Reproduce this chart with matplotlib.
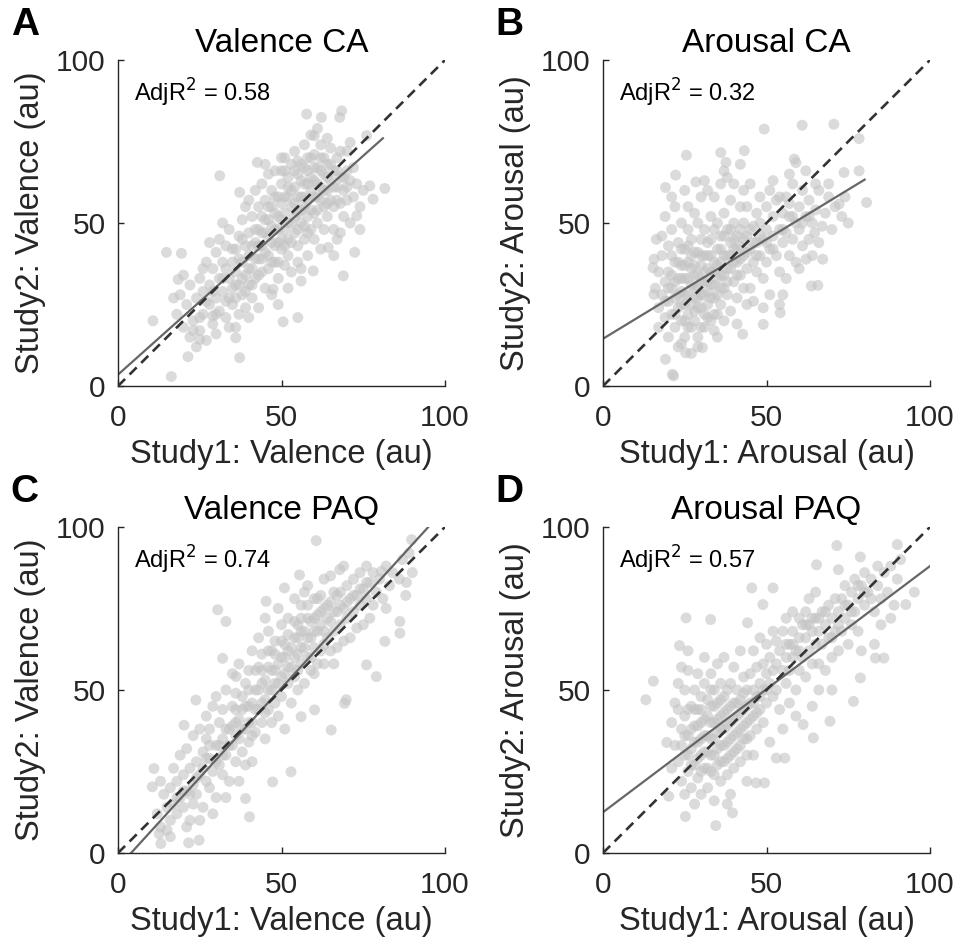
import numpy as np
import matplotlib
matplotlib.use("Agg")
import matplotlib.pyplot as plt

plt.rcParams['font.family'] = ['Liberation Sans', 'DejaVu Sans']

# panel titles, letters, axis names and the adjusted R^2 values
titles = ['Valence CA', 'Arousal CA', 'Valence PAQ', 'Arousal PAQ']
letters = ['A', 'B', 'C', 'D']
measures = ['Valence', 'Arousal', 'Valence', 'Arousal']
adj_r2 = [0.58, 0.32, 0.74, 0.57]

# fitted regression lines: intercept, slope, x end
fit_intercept = [3.5, 14.5, -4.4, 12.5]
fit_slope = [0.895, 0.61, 1.1, 0.755]
fit_xmax = [81, 80, 100, 100]

# scatter points (Study1, Study2)
pts_a = [
    (16.3, 2.9), (10.7, 20), (14.8, 41), (19.4, 40.7), (31.1, 64.5), (21.4, 9), (37.2, 8.7),
    (36, 14.8), (50.5, 19.7), (55, 21), (57.7, 83.4), (62.2, 82.4), (68.4, 84.4), (67.8, 82.4),
    (76, 76.8), (81.6, 60.6), (78, 57.3), (77, 61.4), (73, 52.2), (72.4, 41), (68.9, 33.8),
    (64.3, 42.5), (59.7, 35.3), (56, 32.2), (47.4, 29.7), (42.6, 68.6), (37.2, 59.4), (71, 74.7),
    (60, 76.8), (51, 70), (17, 27), (18.4, 32.7), (25, 14.3), (29, 21.5),
    (18, 22), (19, 28), (20, 18), (21, 25), (22, 31), (22, 15), (20, 34), (23, 20),
    (24, 27), (25, 17), (25, 33), (26, 22), (26, 29), (27, 14), (27, 38), (24, 12), (26, 36),
    (28, 25), (28, 31), (29, 19), (29, 36), (30, 27), (30, 41), (30, 16), (31, 23), (31, 33),
    (28, 44), (31, 45),
    (32, 29), (32, 38), (33, 21), (33, 26), (33, 43), (34, 33), (34, 48), (34, 18), (35, 30),
    (35, 38), (35, 25), (32, 50),
    (36, 35), (36, 42), (36, 27), (37, 46), (37, 31), (37, 22), (38, 38), (38, 51), (38, 28),
    (39, 34), (39, 43), (39, 55), (36, 18), (39, 24),
    (40, 31), (40, 40), (40, 47), (40, 57), (41, 36), (41, 27), (41, 52), (42, 44), (42, 33),
    (42, 60), (43, 39), (43, 48), (43, 24), (40, 21), (43, 55),
    (44, 35), (44, 43), (44, 52), (44, 62), (45, 30), (45, 47), (45, 57), (46, 40), (46, 51),
    (46, 36), (46, 65), (47, 44), (47, 55), (47, 28), (45, 68), (47, 60),
    (48, 38), (48, 48), (48, 58), (48, 66), (49, 33), (49, 52), (49, 44), (50, 42), (50, 56),
    (50, 62), (50, 70), (51, 37), (51, 48), (51, 53), (49, 25), (51, 66),
    (52, 45), (52, 58), (52, 64), (52, 40), (53, 50), (53, 55), (53, 68), (53, 35), (54, 47),
    (54, 61), (54, 72), (55, 43), (55, 53), (55, 65), (55, 38), (52, 30),
    (56, 50), (56, 58), (56, 68), (57, 45), (57, 62), (57, 74), (57, 55), (58, 40), (58, 52),
    (58, 66), (59, 48), (59, 60), (59, 70), (56, 36), (59, 77), (58, 57),
    (60, 53), (60, 63), (60, 45), (60, 71), (61, 58), (61, 67), (61, 50), (62, 42), (62, 61),
    (62, 74), (63, 55), (63, 65), (63, 48), (61, 79), (63, 70),
    (64, 52), (64, 60), (64, 68), (65, 57), (65, 63), (65, 73), (66, 48), (66, 55), (66, 66),
    (67, 61), (67, 70), (67, 45), (64, 76), (66, 40),
    (68, 56), (68, 64), (68, 72), (69, 52), (69, 60), (70, 66), (70, 57), (71, 63), (71, 50),
    (68, 47), (70, 72),
    (72, 58), (73, 62), (74, 55), (72, 67), (75, 60), (74, 48),
    (23, 17), (25, 21), (27, 26), (29, 29), (30, 22), (32, 33), (33, 36), (34, 27), (35, 42),
    (36, 31), (37, 39), (38, 33), (38, 45), (39, 29), (40, 36), (41, 43), (41, 31), (42, 48),
    (42, 39), (43, 34), (43, 43), (44, 47), (44, 39), (45, 51), (45, 41), (46, 46), (46, 55),
    (47, 49), (47, 38), (48, 53), (48, 43), (49, 48), (49, 58), (49, 38), (50, 51), (50, 45),
    (50, 66), (51, 58), (51, 43), (52, 50), (52, 61), (53, 44), (53, 60), (54, 52), (54, 56),
    (54, 66), (55, 48), (55, 58), (55, 69), (56, 54), (56, 63), (57, 49), (57, 58), (57, 67),
    (58, 62), (58, 70), (59, 54), (59, 64), (60, 58), (60, 67), (61, 62), (61, 54), (62, 57),
    (62, 66), (63, 60), (64, 64), (64, 56), (65, 68), (66, 61), (67, 57), (67, 66), (69, 64),
    (70, 61), (62, 70), (58, 47),
]

pts_b = [
    (49.3, 78.8), (60.9, 80), (70.6, 80.3), (78.3, 75.9), (78.3, 66), (73.7, 65.5), (80.6, 56.3),
    (72.2, 55.8), (67.2, 38.9), (63.7, 30.7), (65.7, 30.9), (54.2, 22.5), (49, 18.9), (42.7, 15.9),
    (25.5, 70.8), (36, 71.6), (43.2, 72.2), (37.6, 68.6), (22.2, 64.7), (19.1, 60.9), (28.4, 62.6),
    (16.3, 45), (15.6, 38.9), (15.3, 36.3), (15.6, 28.1), (19.1, 8.2), (21.2, 3.6), (21.6, 3.1),
    (25.3, 10.2), (30.4, 11.8), (58.5, 69.6), (59, 68.5), (64.7, 47), (62.1, 38.9),
    (16, 30), (17, 35), (17, 24), (18, 40), (18, 28), (19, 32), (19, 21), (18, 46), (19, 52), (17, 18),
    (20, 26), (20, 35), (20, 43), (20, 15), (21, 30), (21, 22), (21, 48), (22, 38), (22, 27),
    (22, 18), (23, 33), (23, 44), (23, 12), (22, 55), (21, 58), (23, 24),
    (24, 29), (24, 37), (24, 20), (24, 50), (25, 25), (25, 33), (25, 42), (25, 15), (26, 28),
    (26, 38), (26, 22), (26, 55), (27, 31), (27, 45), (27, 18), (27, 10), (25, 60), (26, 48),
    (24, 13), (27, 36),
    (28, 27), (28, 34), (28, 41), (28, 20), (29, 30), (29, 50), (29, 24), (29, 15), (30, 37),
    (30, 28), (30, 45), (30, 58), (31, 32), (31, 22), (31, 40), (31, 63), (28, 53), (30, 18),
    (29, 12), (31, 48),
    (32, 29), (32, 36), (32, 44), (32, 25), (33, 52), (33, 31), (33, 20), (33, 40), (34, 35),
    (34, 27), (34, 48), (34, 58), (35, 33), (35, 42), (35, 22), (35, 15), (32, 60), (34, 17),
    (36, 30), (36, 38), (36, 46), (36, 25), (37, 53), (37, 34), (37, 20), (38, 40), (38, 28),
    (38, 64), (38, 48), (39, 36), (39, 44), (39, 23), (37, 66), (39, 57), (36, 62),
    (40, 32), (40, 42), (40, 50), (40, 62), (41, 38), (41, 27), (41, 46), (42, 55), (42, 34),
    (42, 43), (42, 68), (43, 40), (43, 30), (43, 50), (41, 19), (43, 60),
    (44, 36), (44, 46), (44, 55), (45, 42), (45, 30), (45, 62), (46, 38), (46, 49), (46, 26),
    (47, 44), (47, 53), (47, 35), (44, 25),
    (48, 40), (48, 50), (48, 58), (49, 45), (49, 33), (50, 48), (50, 38), (50, 55), (51, 42),
    (51, 28), (51, 60), (49, 24),
    (52, 46), (52, 52), (53, 40), (53, 57), (54, 48), (54, 35), (55, 44), (55, 53), (55, 28),
    (52, 63), (54, 25),
    (56, 47), (56, 58), (57, 40), (57, 52), (58, 45), (58, 62), (59, 50), (59, 38), (57, 65), (56, 33),
    (60, 48), (60, 55), (61, 43), (61, 60), (62, 52), (62, 66), (63, 45), (63, 57), (60, 36),
    (64, 50), (65, 54), (66, 44), (66, 60), (67, 49), (65, 62), (64, 40),
    (68, 53), (69, 58), (70, 48), (71, 55), (69, 62),
    (73, 52), (74, 58), (75, 50),
    (19, 26), (20, 30), (21, 34), (21, 40), (22, 22), (22, 32), (23, 28), (23, 38), (24, 25),
    (24, 33), (24, 42), (25, 20), (25, 28), (25, 37), (26, 33), (26, 43), (26, 18), (27, 25),
    (27, 40), (28, 30), (28, 23), (28, 37), (29, 27), (29, 34), (29, 41), (30, 24), (30, 32),
    (30, 40), (31, 28), (31, 35), (31, 18), (32, 32), (32, 40), (32, 21), (33, 27), (33, 35),
    (33, 45), (34, 31), (34, 38), (34, 22), (35, 28), (35, 37), (35, 50), (36, 34), (36, 42),
    (37, 30), (37, 40), (37, 46), (38, 36), (38, 32), (39, 40), (39, 48), (40, 38), (40, 45),
    (41, 42), (41, 34), (42, 39), (42, 48), (43, 45), (44, 41), (45, 48), (46, 44), (47, 40),
    (48, 46), (50, 44), (52, 42), (55, 48), (58, 52), (61, 50), (63, 52), (57, 56), (54, 58),
]

pts_c = [
    (60.6, 95.8), (89.8, 96.1), (88.2, 83), (86.2, 71), (86.2, 67.4), (81.6, 64.9), (79, 54.1),
    (76, 57.7), (69.3, 45.9), (69.8, 47), (65.2, 37.7), (60.1, 43.9), (56, 41.8), (52.9, 24.9),
    (47.3, 21.8), (30.5, 74.6), (33, 71), (32, 59.7), (50.9, 81.3), (45.3, 77.2), (23.8, 46.9),
    (20.2, 39.2), (10.5, 20.3), (11, 25.9), (12.6, 5.9), (13.1, 2.9), (21.6, 3.1), (24.8, 3.9),
    (40.2, 11.1), (39, 16.7), (36.1, 54.1), (67.8, 86.9), (80.6, 86.4), (55.5, 85.3),
    (12, 12), (13, 8), (14, 18), (15, 14), (13, 22), (15, 7),
    (16, 10), (16, 20), (17, 15), (17, 26), (18, 12), (18, 22), (19, 17), (19, 30), (16, 5),
    (20, 14), (20, 24), (21, 19), (21, 32), (22, 10), (22, 26), (23, 21), (23, 36), (21, 8), (23, 15),
    (24, 18), (24, 28), (25, 24), (25, 38), (26, 14), (26, 31), (27, 22), (27, 35), (25, 10), (27, 42),
    (28, 20), (28, 29), (28, 38), (29, 25), (29, 45), (30, 17), (30, 33), (31, 27), (31, 40),
    (30, 48), (29, 12),
    (32, 24), (32, 35), (32, 44), (33, 30), (33, 50), (34, 22), (34, 38), (35, 33), (35, 45),
    (33, 17), (35, 55),
    (36, 28), (36, 40), (36, 49), (37, 35), (37, 58), (38, 31), (38, 44), (39, 38), (39, 52),
    (37, 22), (39, 27),
    (40, 34), (40, 45), (40, 56), (41, 40), (41, 62), (42, 37), (42, 50), (43, 44), (43, 57),
    (41, 28), (43, 66),
    (44, 40), (44, 52), (44, 61), (45, 47), (45, 35), (46, 44), (46, 57), (46, 68), (47, 50),
    (47, 40), (45, 72), (47, 62),
    (48, 46), (48, 56), (48, 65), (49, 52), (49, 42), (50, 60), (50, 48), (50, 70), (51, 55),
    (51, 38), (51, 64), (49, 75),
    (52, 52), (52, 62), (52, 72), (53, 57), (53, 46), (54, 66), (54, 54), (54, 78), (55, 61),
    (55, 50), (55, 70),
    (56, 58), (56, 68), (56, 76), (57, 63), (57, 52), (58, 72), (58, 60), (58, 82), (59, 66),
    (59, 56), (57, 80),
    (60, 63), (60, 72), (60, 55), (61, 68), (61, 78), (62, 62), (62, 74), (63, 68), (63, 84),
    (61, 58), (63, 58),
    (64, 66), (64, 76), (65, 71), (65, 62), (66, 80), (66, 68), (67, 74), (67, 63), (65, 85), (66, 58),
    (68, 70), (68, 80), (69, 75), (69, 65), (70, 82), (70, 72), (71, 78), (71, 66), (69, 88),
    (72, 74), (72, 84), (73, 79), (73, 69), (74, 86), (74, 76), (75, 81), (75, 70),
    (76, 78), (76, 88), (77, 83), (78, 76), (78, 86), (79, 80), (77, 72),
    (80, 84), (81, 78), (82, 88), (83, 82), (84, 86), (82, 75),
    (86, 84), (87, 90), (88, 79), (89, 92), (90, 86),
    (18, 17), (20, 19), (22, 18), (24, 23), (26, 26), (27, 29), (28, 33), (30, 28), (31, 33),
    (32, 30), (33, 38), (34, 33), (35, 39), (36, 36), (36, 44), (37, 41), (38, 38), (38, 48),
    (39, 45), (40, 40), (40, 50), (41, 46), (42, 44), (42, 56), (43, 50), (44, 46), (44, 56),
    (45, 53), (46, 50), (46, 62), (47, 56), (48, 52), (48, 61), (49, 58), (50, 54), (50, 65),
    (51, 60), (52, 57), (52, 67), (53, 63), (54, 60), (54, 71), (55, 66), (56, 63), (56, 72),
    (57, 68), (58, 66), (58, 76), (59, 71), (60, 68), (60, 78), (61, 73), (62, 70), (62, 79),
    (63, 75), (64, 72), (65, 77), (66, 74), (67, 79), (68, 76), (70, 77), (72, 79), (74, 81),
    (76, 83), (63, 64), (59, 60), (55, 56), (45, 43), (41, 36),
]

pts_d = [
    (13.1, 47), (15.4, 52.7), (25.4, 72.1), (32.9, 71.6), (23.4, 63.6), (44.2, 70.6), (45.5, 81.3),
    (52, 81.3), (48.9, 76.2), (71.5, 94.3), (90, 94.6), (78.7, 90.8), (65.3, 88.4), (72, 86.9),
    (95.2, 80), (92.6, 76.2), (85.9, 59.8), (83.3, 59.8), (78.7, 53.7), (76.6, 46.5), (69.4, 40.4),
    (64.3, 35.3), (61.2, 39.4), (55.6, 29.1), (53, 29.1), (49.4, 21.5), (46.8, 21.5), (39.6, 12.3),
    (34.5, 8.4), (25.2, 11.2), (20.1, 17.4), (19.5, 33.9),
    (21, 40), (22, 33), (22, 46), (23, 28), (23, 52), (24, 38), (24, 22), (24, 57), (21, 26), (23, 44),
    (25, 30), (25, 42), (25, 50), (25, 18), (26, 36), (26, 25), (26, 56), (27, 45), (27, 32),
    (27, 20), (28, 39), (28, 50), (28, 27), (26, 62), (28, 15),
    (29, 34), (29, 44), (29, 23), (29, 55), (30, 30), (30, 40), (30, 48), (30, 18), (31, 36),
    (31, 26), (31, 52), (32, 42), (32, 31), (32, 20), (31, 60), (32, 47),
    (33, 35), (33, 45), (33, 25), (33, 55), (34, 30), (34, 40), (34, 50), (34, 16), (35, 37),
    (35, 27), (35, 46), (35, 58), (36, 33), (36, 42), (36, 22), (36, 52),
    (37, 38), (37, 28), (37, 48), (37, 60), (38, 34), (38, 44), (38, 24), (39, 40), (39, 30),
    (39, 52), (39, 18), (40, 36), (40, 46), (40, 26), (40, 57), (38, 15),
    (41, 42), (41, 32), (41, 50), (42, 38), (42, 47), (42, 28), (42, 62), (43, 44), (43, 35),
    (43, 54), (44, 40), (44, 50), (44, 30), (44, 22),
    (45, 46), (45, 55), (45, 36), (46, 50), (46, 42), (46, 62), (47, 48), (47, 38), (47, 57),
    (48, 52), (48, 44), (48, 66), (46, 30),
    (49, 50), (49, 58), (49, 40), (50, 55), (50, 46), (50, 64), (51, 52), (51, 60), (51, 34),
    (52, 56), (52, 48), (52, 68),
    (53, 58), (53, 50), (53, 65), (54, 62), (54, 44), (55, 56), (55, 68), (55, 38), (56, 60),
    (56, 52), (56, 72),
    (57, 64), (57, 56), (57, 46), (58, 68), (58, 60), (58, 74), (59, 62), (59, 50), (60, 66),
    (60, 72), (60, 56), (59, 42),
    (61, 70), (61, 60), (62, 74), (62, 66), (62, 54), (63, 70), (63, 62), (63, 78), (64, 68),
    (64, 58), (64, 45),
    (65, 72), (65, 64), (65, 80), (66, 68), (66, 58), (67, 74), (67, 64), (68, 70), (68, 56), (66, 50),
    (69, 76), (69, 66), (70, 72), (70, 60), (71, 78), (71, 68), (72, 74), (72, 62), (70, 50),
    (73, 78), (73, 68), (74, 82), (74, 72), (75, 76), (75, 64), (76, 80), (76, 70),
    (77, 84), (77, 74), (78, 78), (78, 68), (79, 82), (80, 76), (80, 86), (79, 62),
    (81, 80), (82, 84), (83, 74), (84, 88), (85, 78), (83, 64), (85, 70),
    (86, 86), (87, 80), (88, 88), (89, 76), (90, 84), (91, 90), (88, 72),
    (24, 33), (25, 36), (26, 30), (26, 44), (27, 38), (27, 27), (28, 34), (28, 44), (29, 29),
    (29, 39), (30, 35), (30, 25), (30, 44), (31, 31), (31, 41), (32, 36), (32, 26), (33, 40),
    (33, 30), (33, 50), (34, 35), (34, 24), (34, 45), (35, 32), (35, 41), (36, 28), (36, 38),
    (36, 47), (37, 33), (37, 43), (38, 29), (38, 39), (38, 50), (39, 35), (39, 45), (40, 31),
    (40, 41), (41, 37), (41, 46), (42, 33), (42, 43), (43, 39), (43, 49), (44, 35), (44, 45),
    (45, 41), (46, 46), (47, 43), (48, 48), (50, 50), (56, 64), (58, 64), (60, 62), (62, 70),
    (64, 72), (66, 72), (68, 74), (70, 66), (72, 70), (74, 76), (76, 74), (78, 82), (80, 80),
    (82, 78), (84, 82),
]

all_pts = [pts_a, pts_b, pts_c, pts_d]

lefts = [0.1233, 0.6301, 0.1233, 0.6301]
bottoms = [0.5902, 0.5902, 0.0945, 0.0945]
w, h = 0.3417, 0.3461

fig = plt.figure(figsize=(9.57, 9.42), dpi=100)

for i in range(4):
    ax = fig.add_axes([lefts[i], bottoms[i], w, h])
    xy = np.array(all_pts[i])
    ax.scatter(xy[:, 0], xy[:, 1], s=62, color='#c4c4c4', alpha=0.6,
               edgecolors='none', zorder=1)

    # identity line
    ax.plot([0, 100], [0, 100], color='#333333', lw=1.9,
            linestyle=(0, (3.8, 2.4)), zorder=3)
    # regression fit
    xf = np.array([0, fit_xmax[i]])
    ax.plot(xf, fit_intercept[i] + fit_slope[i] * xf, color='#666666', lw=1.6, zorder=2)

    ax.set_xlim(0, 100)
    ax.set_ylim(0, 100)
    ax.set_xticks([0, 50, 100])
    ax.set_yticks([0, 50, 100])
    for side in ['top', 'right']:
        ax.spines[side].set_visible(False)
    for side in ['left', 'bottom']:
        ax.spines[side].set_color('#262626')
        ax.spines[side].set_linewidth(1.0)
    ax.tick_params(direction='in', length=4, width=1.0, color='#262626',
                   labelsize=21.5, labelcolor='#262626')
    ax.tick_params(axis='x', pad=13)
    ax.tick_params(axis='y', pad=9)

    ax.set_title(titles[i], fontsize=24, pad=6)
    ax.set_xlabel('Study1: ' + measures[i] + ' (au)', fontsize=23.5, color='#262626', labelpad=5)
    ax.set_ylabel('Study2: ' + measures[i] + ' (au)', fontsize=23.5, color='#262626', labelpad=7)
    ax.text(5, 90, 'AdjR$^2$ = %.2f' % adj_r2[i], fontsize=17, ha='left', va='center')

    fig.text(lefts[i] - 0.112, bottoms[i] + h + 0.018, letters[i], fontsize=28,
             fontweight='bold', ha='left', va='bottom')

fig.savefig('out.png', dpi=100)
